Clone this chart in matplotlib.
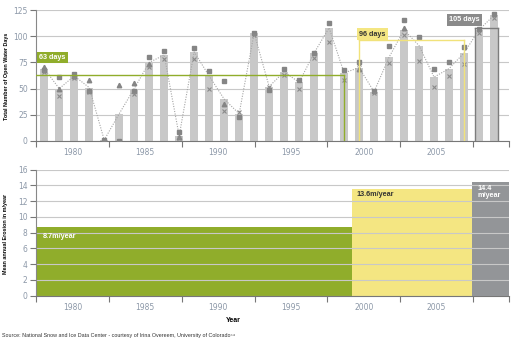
import numpy as np
import matplotlib
matplotlib.use("Agg")
from matplotlib import pyplot as plt

nan = np.nan

# open water days per year (bars = mean, markers = individual sources)
years = list(range(1978, 2009))
mean_days = [69, 50, 62, 51, 1, 26, 50, 75, 82, 5, 85, 62, 40, 26, 103, 52,
             66, 56, 84, 108, 65, 70, 47, 80, 106, 91, 61, 69, 84, 106, 120]
source_sq = [68, 61, 64, 48, 1, 0, 48, 80, 86, 9, 89, 67, 57, 23, 103, 49,
             69, 58, 84, 113, 68, 75, 48, 91, 115, 99, 69, 75, 90, 107, 121]
source_tri = [71, 50, 62, 58, nan, 53, 55, 73, nan, 4, nan, nan, 35, nan, nan, nan,
              nan, nan, nan, nan, nan, 69, nan, nan, 108, nan, nan, nan, nan, nan, nan]
source_x = [66, 43, 60, 47, 0, nan, 45, 71, 78, 3, 78, 50, 29, 28, 101, 52,
            63, 50, 79, 94, 58, 73, 46, 74, 101, 76, 52, 62, 73, 103, 117]

# period averages (top chart)
period_labels = ['63 days', '96 days', '105 days']
period_levels = [63, 96, 108]
period_years = [(1977.45, 1998), (1999, 2006), (2006.725, 2008.275)]

# erosion rates (bottom chart)
erosion_labels = ['8.7m/year', '13.6m/year', '14.4\nm/year']
erosion_rates = [8.7, 13.6, 14.4]
erosion_start = [1977.45, 1998.5, 2006.5]
erosion_end = [1998.5, 2006.5, 2009.0]

tick_years = ['1980', '1985', '1990', '1995', '2000', '2005']

GREEN = '#90ad2b'
YELLOW = '#f4e682'
GRAY = '#939598'
TICKC = '#8c98a8'
narrow = ['Liberation Sans', 'DejaVu Sans']

fig = plt.figure(figsize=(5.16, 3.56), dpi=100)
ax1 = fig.add_axes([36 / 516, 1 - 141 / 356, 473 / 516, 131 / 356])
ax2 = fig.add_axes([36 / 516, 1 - 295.7 / 356, 473 / 516, 126 / 356])

edges = list(np.linspace(1977.45, 2006.6, 7)) + [2009.0]
mids = [(edges[i] + edges[i + 1]) / 2 for i in range(6)]


def style_axes(ax, yticks):
    ax.set_xlim(1977.45, 2009.0)
    ax.set_yticks(yticks)
    ax.set_ylim(yticks[0], yticks[-1])
    ax.set_xticks(edges)
    ax.set_xticklabels([''] * len(edges))
    ax.set_xticks(mids, minor=True)
    ax.set_xticklabels(tick_years, minor=True)
    ax.tick_params(axis='x', which='minor', length=0, pad=5, labelsize=5.5, labelcolor=TICKC)
    ax.tick_params(axis='x', which='major', length=4, width=0.8, color='#777777')
    ax.tick_params(axis='y', length=4, width=0.8, color='#777777', labelsize=5.5,
                   labelcolor=TICKC, pad=2)
    for s in ['top', 'right']:
        ax.spines[s].set_visible(False)
    ax.spines['left'].set_color('#888888')
    ax.spines['bottom'].set_color('#777777')
    ax.spines['left'].set_linewidth(0.8)
    ax.spines['bottom'].set_linewidth(0.8)


# --- top chart
style_axes(ax1, [0, 25, 50, 75, 100, 125])
ax1.grid(axis='y', color='#c8c8c8', linewidth=0.8)
ax1.set_axisbelow(True)
ax1.bar(years, mean_days, width=0.55, color='#c8c8c8', zorder=2)
ax1.plot(years, mean_days, color='#a5a5a5', linewidth=0.8, linestyle=(0, (1, 1.3)), zorder=3)
ax1.plot(years, source_sq, 's', color='#858585', markersize=3.2, zorder=4)
ax1.plot(years, source_tri, '^', color='#858585', markersize=3.2, zorder=4)
ax1.plot(years, source_x, 'x', color='#8a8a8a', markersize=2.6, markeredgewidth=0.8, zorder=4)

line_colors = [GREEN, '#f1e27a', '#7d7d7d']
for i in range(3):
    x0, x1 = period_years[i]
    lvl = period_levels[i]
    ax1.plot([x0, x1], [lvl, lvl], color=line_colors[i], linewidth=1.0, zorder=5)
    if i > 0:
        ax1.plot([x0, x0], [0, lvl], color=line_colors[i], linewidth=1.0, zorder=5)
    ax1.plot([x1, x1], [0, lvl], color=line_colors[i], linewidth=1.0, zorder=5)

ax1.text(1977.65, 79.5, period_labels[0], color='white', fontsize=5.2, fontweight='bold',
         ha='left', va='center', family=narrow, zorder=6,
         bbox=dict(boxstyle='square,pad=0.3', fc=GREEN, ec='none'))
ax1.text(1999.0, 102, period_labels[1], color='#333333', fontsize=5.2, fontweight='bold',
         ha='left', va='center', family=narrow, zorder=6,
         bbox=dict(boxstyle='square,pad=0.3', fc=YELLOW, ec='none'))
ax1.text(2007.05, 115.5, period_labels[2], color='white', fontsize=5.2, fontweight='bold',
         ha='right', va='center', family=narrow, zorder=6,
         bbox=dict(boxstyle='square,pad=0.3', fc='#8a8a8a', ec='none'))

# --- bottom chart
style_axes(ax2, [0, 2, 4, 6, 8, 10, 12, 14, 16])
widths = [e - s for s, e in zip(erosion_start, erosion_end)]
ax2.bar(erosion_start, erosion_rates, width=widths, align='edge',
        color=[GREEN, YELLOW, GRAY], zorder=1)
ax2.grid(axis='y', color='#c8c8c8', linewidth=0.8, zorder=2)
ax2.text(erosion_start[0] + 0.45, erosion_rates[0] - 1.2, erosion_labels[0], color='white',
         fontsize=5.2, fontweight='bold', family=narrow, va='center', zorder=3)
ax2.text(erosion_start[1] + 0.35, erosion_rates[1] - 0.7, erosion_labels[1], color='#333333',
         fontsize=5.2, fontweight='bold', family=narrow, va='center', zorder=3)
ax2.text(erosion_start[2] + 0.4, erosion_rates[2] - 1.2, erosion_labels[2], color='white',
         fontsize=5.2, fontweight='bold', family=narrow, va='center', zorder=3,
         linespacing=0.95)

# axis titles placed in figure pixels
fig.text(7 / 516, 1 - 76 / 356, 'Total Number of Open Water Days', fontsize=3.9,
         fontweight='bold', family=narrow, rotation=90, ha='center', va='center')
fig.text(6 / 516, 1 - 234 / 356, 'Mean annual Erosion in m/year', fontsize=3.9,
         fontweight='bold', family=narrow, rotation=90, ha='center', va='center')
fig.text(233 / 516, 1 - 320 / 356, 'Year', fontsize=5, fontweight='bold',
         family=narrow, ha='center', va='center')
fig.text(2 / 516, 1 - 336 / 356,
         'Source: National Snow and Ice Data Center - courtesy of Irina Overeem, University of Colorado\u2075\u2074',
         fontsize=3.9, color='#333333', family=narrow, ha='left', va='center')

fig.savefig('out.png', dpi=100)
